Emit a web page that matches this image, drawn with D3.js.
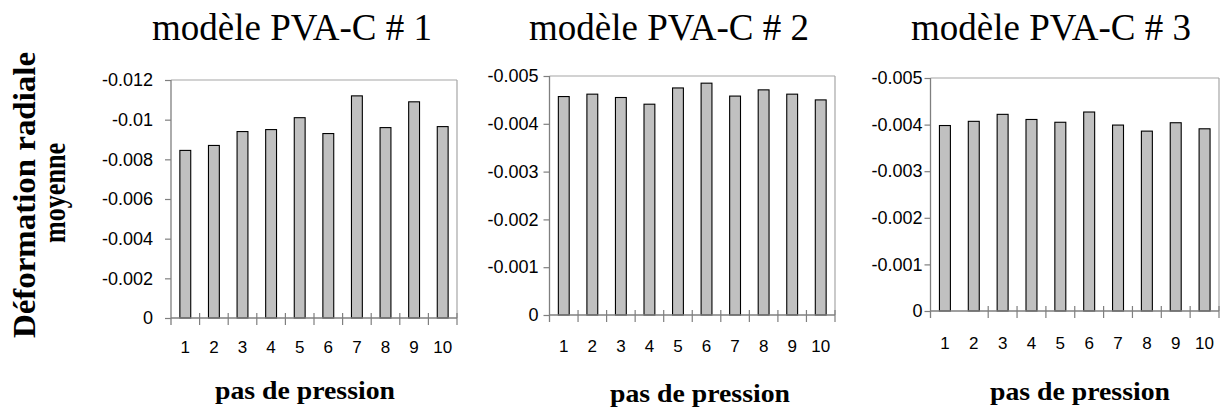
<!DOCTYPE html>
<html>
<head>
<meta charset="utf-8">
<script src="https://cdn.jsdelivr.net/npm/d3@7"></script>
<style>
  html, body { margin: 0; padding: 0; background: #fff; }
  svg { display: block; }
</style>
</head>
<body>
<svg id="chart" width="1220" height="409"></svg>
<script>
// ---------- data ----------
const pasDePression = ["1", "2", "3", "4", "5", "6", "7", "8", "9", "10"];
const titles = ["modèle PVA-C # 1", "modèle PVA-C # 2", "modèle PVA-C # 3"];
const modele1 = [-0.00845, -0.0087, -0.0094, -0.0095, -0.0101, -0.0093, -0.0112, -0.0096, -0.0109, -0.00965];
const modele2 = [-0.00457, -0.00462, -0.00455, -0.00441, -0.00475, -0.00485, -0.00458, -0.00471, -0.00462, -0.0045];
const modele3 = [-0.00398, -0.00407, -0.00422, -0.00411, -0.00405, -0.00427, -0.00399, -0.00386, -0.00404, -0.00391];
const ticks1 = [0, -0.002, -0.004, -0.006, -0.008, -0.01, -0.012];
const tickLabels1 = ["0", "-0.002", "-0.004", "-0.006", "-0.008", "-0.01", "-0.012"];
const ticks23 = [0, -0.001, -0.002, -0.003, -0.004, -0.005];
const tickLabels23 = ["0", "-0.001", "-0.002", "-0.003", "-0.004", "-0.005"];
const xTitle = "pas de pression";
const yTitle = ["Déformation radiale", "moyenne"];

// ---------- layout ----------
const panels = [
  { values: modele1, ticks: ticks1, labels: tickLabels1, x0: 171, x1: 457, yTop: 80, yZero: 318,
    title: titles[0], tx: 292, xlabBase: 353, xtx: 305, xty: 399, yLabGap: 18, skipTick: [] },
  { values: modele2, ticks: ticks23, labels: tickLabels23, x0: 549.5, x1: 835, yTop: 76, yZero: 315,
    title: titles[1], tx: 669, xlabBase: 352, xtx: 700, xty: 402, yLabGap: 11, skipTick: [] },
  { values: modele3, ticks: ticks23, labels: tickLabels23, x0: 930.5, x1: 1219, yTop: 78, yZero: 311,
    title: titles[2], tx: 1051, xlabBase: 349, xtx: 1080, xty: 400, yLabGap: 8, skipTick: [1] }
];

const svg = d3.select("#chart");
const axisColor = "#7f7f7f";
const borderColor = "#a6a6a6";

panels.forEach(p => {
  const g = svg.append("g");
  const yMin = p.ticks[p.ticks.length - 1];
  const y = d3.scaleLinear().domain([0, yMin]).range([p.yZero, p.yTop]);
  const x = d3.scaleBand().domain(pasDePression).range([p.x0, p.x1])
    .paddingInner(0.62).paddingOuter(0.31);
  const xb = d3.scaleLinear().domain([0, pasDePression.length]).range([p.x0, p.x1]);

  // plot border (top + right)
  g.append("line").attr("x1", p.x0).attr("x2", p.x1).attr("y1", p.yTop).attr("y2", p.yTop)
    .attr("stroke", borderColor).attr("stroke-width", 1.2);
  g.append("line").attr("x1", p.x1).attr("x2", p.x1).attr("y1", p.yTop).attr("y2", p.yZero)
    .attr("stroke", borderColor).attr("stroke-width", 1.2);

  // bars
  g.selectAll("rect.bar").data(p.values).enter().append("rect")
    .attr("class", "bar")
    .attr("x", (d, i) => x(pasDePression[i]))
    .attr("width", x.bandwidth())
    .attr("y", d => y(d))
    .attr("height", d => y(0) - y(d))
    .attr("fill", "#c0c0c0")
    .attr("stroke", "#000")
    .attr("stroke-width", 1.1);

  // y axis
  const yAxis = d3.axisLeft(y).tickValues(p.ticks)
    .tickFormat((d, i) => p.labels[i]).tickSize(6).tickSizeOuter(0).tickPadding(p.yLabGap - 6);
  const ya = g.append("g").attr("transform", `translate(${p.x0},0)`).call(yAxis);
  ya.select(".domain").attr("stroke", axisColor).attr("stroke-width", 1.3)
    .attr("d", `M0,${p.yTop}V${p.yZero + 7}`);
  ya.selectAll(".tick line").attr("stroke", axisColor).attr("stroke-width", 1.2);
  ya.selectAll(".tick text").attr("font-family", "Liberation Sans, Arial, sans-serif")
    .attr("font-size", 18).attr("fill", "#000");

  // x axis line + crossing ticks at category boundaries
  g.append("line").attr("x1", p.x0).attr("x2", p.x1).attr("y1", p.yZero).attr("y2", p.yZero)
    .attr("stroke", axisColor).attr("stroke-width", 1.3);
  const bounds = d3.range(1, pasDePression.length + 1).filter(i => !p.skipTick.includes(i));
  g.selectAll("line.xt").data(bounds).enter().append("line")
    .attr("class", "xt")
    .attr("x1", d => xb(d)).attr("x2", d => xb(d))
    .attr("y1", p.yZero - 5).attr("y2", p.yZero + 7)
    .attr("stroke", axisColor).attr("stroke-width", 1.2);

  // x labels
  g.selectAll("text.xl").data(pasDePression).enter().append("text")
    .attr("class", "xl")
    .attr("x", d => x(d) + x.bandwidth() / 2)
    .attr("y", p.xlabBase)
    .attr("text-anchor", "middle")
    .attr("font-family", "Liberation Sans, Arial, sans-serif")
    .attr("font-size", 17)
    .attr("fill", "#000")
    .text(d => d);

  // title
  g.append("text").attr("x", p.tx).attr("y", 40).attr("text-anchor", "middle")
    .attr("font-family", "Liberation Serif, Times New Roman, serif")
    .attr("font-size", 37).attr("fill", "#000").text(p.title);

  // x axis title
  g.append("text").attr("x", p.xtx).attr("y", p.xty).attr("text-anchor", "middle")
    .attr("font-family", "Liberation Serif, Times New Roman, serif")
    .attr("font-weight", "bold").attr("font-size", 26)
    .attr("textLength", 180).attr("lengthAdjust", "spacingAndGlyphs")
    .attr("fill", "#000").text(xTitle);
});

// y axis title (two rotated lines)
svg.append("text")
  .attr("transform", "translate(35,195) rotate(-90)")
  .attr("text-anchor", "middle")
  .attr("font-family", "Liberation Serif, Times New Roman, serif")
  .attr("font-weight", "bold").attr("font-size", 31)
  .attr("textLength", 286).attr("lengthAdjust", "spacingAndGlyphs")
  .attr("fill", "#000").text(yTitle[0]);
svg.append("text")
  .attr("transform", "translate(65,193) rotate(-90)")
  .attr("text-anchor", "middle")
  .attr("font-family", "Liberation Serif, Times New Roman, serif")
  .attr("font-weight", "bold").attr("font-size", 31)
  .attr("textLength", 100).attr("lengthAdjust", "spacingAndGlyphs")
  .attr("fill", "#000").text(yTitle[1]);
</script>
</body>
</html>
